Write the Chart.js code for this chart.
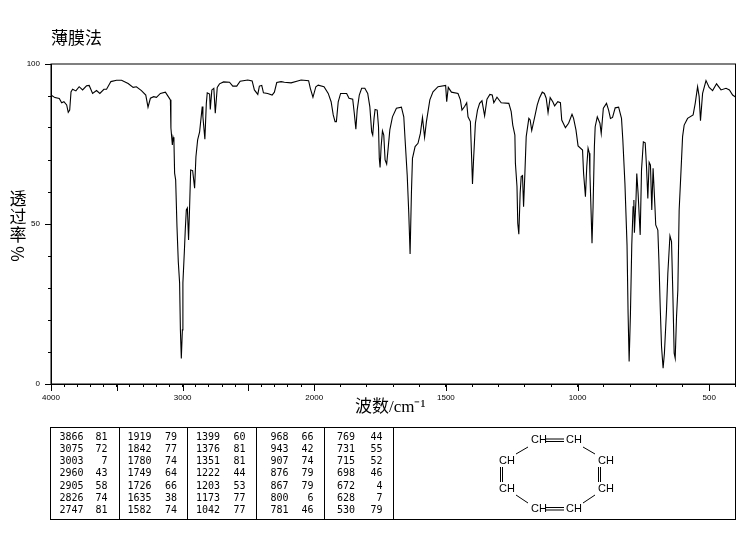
<!DOCTYPE html>
<html>
<head>
<meta charset="utf-8">
<title>薄膜法</title>
<script src="https://cdn.jsdelivr.net/npm/chart.js@4"></script>
<style>
    html, body { margin: 0; padding: 0; background: #fff; }
    canvas { display: block; }
</style>
</head>
<body>
<canvas id="irChart" width="748" height="539"></canvas>
<script>
// spectrum
const wavenumbers = [
    4000, 3970, 3937, 3919, 3902, 3881, 3869, 3858, 3848, 3836, 3811, 3786, 3760, 3730, 3710, 3684, 3654, 3629, 3598, 3578,
    3545, 3502, 3464, 3414, 3376, 3351, 3313, 3280, 3263, 3245, 3220, 3199, 3169, 3131, 3104, 3093, 3089, 3078, 3073, 3066,
    3061, 3053, 3043, 3033, 3023, 3017, 3010, 3002, 2998, 2987, 2980, 2972, 2964, 2955, 2947, 2939, 2924, 2909, 2899, 2886,
    2871, 2851, 2846, 2831, 2820, 2813, 2795, 2790, 2778, 2763, 2752, 2737, 2720, 2689, 2644, 2619, 2589, 2563, 2505, 2472,
    2455, 2429, 2417, 2399, 2386, 2354, 2320, 2303, 2285, 2252, 2227, 2176, 2126, 2100, 2043, 2030, 2010, 1994, 1985, 1963,
    1947, 1936, 1928, 1921, 1916, 1909, 1900, 1877, 1868, 1854, 1848, 1842, 1837, 1829, 1820, 1808, 1797, 1789, 1782, 1778,
    1773, 1769, 1761, 1756, 1753, 1750, 1746, 1741, 1736, 1731, 1725, 1720, 1713, 1703, 1688, 1669, 1660, 1655, 1647, 1641,
    1636, 1631, 1627, 1617, 1606, 1597, 1589, 1581, 1574, 1561, 1549, 1530, 1501, 1497, 1491, 1479, 1454, 1445, 1439, 1429,
    1421, 1416, 1407, 1402, 1399, 1395, 1388, 1380, 1372, 1363, 1353, 1344, 1333, 1324, 1318, 1306, 1290, 1261, 1252, 1246,
    1238, 1236, 1230, 1227, 1223, 1218, 1214, 1209, 1205, 1200, 1195, 1185, 1180, 1174, 1161, 1153, 1145, 1134, 1126, 1119,
    1112, 1104, 1094, 1087, 1075, 1065, 1060, 1046, 1034, 1021, 1015, 1006, 998, 981, 977, 970, 965, 960, 955, 953,
    948, 945, 941, 936, 933, 925, 915, 910, 902, 890, 882, 875, 867, 857, 844, 833, 828, 820, 812, 808,
    804, 799, 794, 789, 786, 784, 778, 775, 770, 762, 757, 750, 743, 738, 733, 728, 723, 718, 713, 706,
    703, 695, 691, 686, 681, 675, 670, 662, 657, 649, 643, 638, 633, 629, 624, 619, 614, 608, 601, 595,
    582, 561, 553, 544, 538, 533, 525, 512, 500, 487, 472, 455, 436, 423, 411, 400
];
const transmittance = [
    90.3, 89.5, 89.2, 87.9, 88.2, 87.2, 84.9, 85.6, 91.3, 92.1, 91.6, 92.9, 91.9, 93.2, 93.3, 90.8, 91.7, 90.8, 92.1, 92.1,
    94.5, 94.9, 94.9, 93.9, 92.7, 92.9, 91.7, 90.3, 86.5, 89.3, 89.8, 89.6, 90.8, 91.2, 89.5, 88.8, 80, 74.7, 77.1, 75.7,
    65.9, 63.8, 49.2, 38.2, 31.6, 16.9, 8, 16.9, 31.6, 41.3, 48.1, 54.4, 55, 45, 55.4, 66.9, 66.7, 61.2, 71, 76.3,
    78.8, 86.7, 83.5, 76.5, 87.7, 91, 90.6, 85.8, 91.9, 92.4, 84.6, 92.7, 93.8, 94.4, 94.3, 93.1, 93.1, 94.6, 95, 94.7,
    91.9, 90.5, 93.1, 93.3, 91, 90.8, 90.3, 91.2, 94.2, 94.5, 94.3, 94.1, 94.7, 95, 94.8, 92.4, 89.6, 92.9, 93.4, 92.9,
    90.8, 88.2, 84.1, 82, 82, 88.2, 90.8, 90.8, 89.3, 89, 84.6, 79.6, 85.6, 90.3, 92.4, 92.4, 90.8, 86.7, 78.8, 77.8,
    83, 85.8, 85.6, 80.4, 70.5, 67.7, 74.2, 79.1, 77.8, 70, 68.7, 73.1, 79.4, 83.5, 86.2, 86.5, 83.5, 76.3, 65.3, 53.3,
    40.6, 59.6, 70.5, 74.2, 75.2, 78.3, 83.3, 77.1, 82, 88.8, 91.3, 92.9, 93.3, 88.2, 92.7, 91.2, 90.8, 88.8, 85.6, 86.7,
    87.9, 83.5, 82, 70, 62.5, 70, 81.5, 85.6, 87.7, 88.5, 83.8, 89, 90.5, 90.3, 87.9, 89.6, 87.9, 87.7, 85.1, 80.9,
    77.8, 69, 61.7, 50.2, 46.8, 59.6, 64.8, 65.1, 55.4, 65.8, 77.3, 83, 82.5, 79.2, 84.1, 87.2, 89.3, 91.2, 90.8, 89.3,
    84.8, 89.5, 88.2, 86.9, 88.2, 87.9, 82.5, 80.1, 81.5, 84.3, 83, 79.4, 74.4, 73.1, 65.8, 58.5, 67.9, 73.7, 72.1, 65.8,
    52.3, 44, 55.4, 74.2, 80.4, 83.5, 81.5, 78.3, 86.2, 87.7, 85.6, 83, 83.3, 86.3, 86.5, 83, 76.3, 62.7, 43.4, 22.1,
    7, 22.1, 43.4, 55.4, 57.5, 47.3, 57.5, 65.8, 59.6, 46.6, 66.9, 75.7, 75.4, 67.9, 58, 69.3, 68.4, 54.4, 67.4, 55.4,
    49.7, 48.1, 38.8, 24.2, 11.7, 4.9, 9.6, 23.1, 34.6, 46.3, 44.5, 28.3, 9.6, 8, 21, 29.4, 54.4, 64.8, 77.3, 80.9,
    83, 84.1, 87.7, 92.9, 89.8, 82.3, 90.8, 94.8, 92.7, 91.7, 93.8, 91.9, 92.4, 91.9, 90.3, 89.7
];

const xLabels = [4000, 3000, 2000, 1500, 1000, 500];
const xLongTicks = [4000, 3500, 3000, 2500, 2000, 1500, 1000, 500];
const yLabels = [0, 50, 100];

// peak table, one list per column of the printed table
const peakColumns = [
    [['3866', '81'], ['3075', '72'], ['3003', '7'], ['2960', '43'], ['2905', '58'], ['2826', '74'], ['2747', '81']],
    [['1919', '79'], ['1842', '77'], ['1780', '74'], ['1749', '64'], ['1726', '66'], ['1635', '38'], ['1582', '74']],
    [['1399', '60'], ['1376', '81'], ['1351', '81'], ['1222', '44'], ['1203', '53'], ['1173', '77'], ['1042', '77']],
    [['968', '66'], ['943', '42'], ['907', '74'], ['876', '79'], ['867', '79'], ['800', '6'], ['781', '46']],
    [['769', '44'], ['731', '55'], ['715', '52'], ['698', '46'], ['672', '4'], ['628', '7'], ['530', '79']]
];

// the axis is twice as compressed above 2000 cm-1
function foldWn(wn) {
    return wn >= 2000 ? (4000 - wn) / 2 : 1000 + (2000 - wn);
}

function buildXTicks() {
    const ticks = [];
    for (let wn = 4000; wn >= 400; wn -= 100) {
        ticks.push({ value: foldWn(wn), wn: wn });
    }
    return ticks;
}

const spectrum = wavenumbers.map((wn, i) => ({ x: foldWn(wn), y: transmittance[i] }));

function line(ctx, x1, y1, x2, y2) {
    ctx.beginPath();
    ctx.moveTo(x1, y1);
    ctx.lineTo(x2, y2);
    ctx.stroke();
}

function drawTable(ctx) {
    const wnRight = [83.5, 151.5, 220, 288.5, 355];
    const tRight = [107.5, 177, 245.5, 313.5, 382.5];
    ctx.strokeRect(50.5, 427.5, 685, 92);
    [119.5, 187.5, 256.5, 324.5, 393.5].forEach(x => line(ctx, x, 427.5, x, 519.5));
    ctx.font = '10px "DejaVu Sans Mono"';
    ctx.textAlign = 'right';
    ctx.textBaseline = 'middle';
    peakColumns.forEach((col, c) => {
        col.forEach((row, r) => {
            const y = 437 + r * 12.3;
            ctx.fillText(row[0], wnRight[c], y);
            ctx.fillText(row[1], tRight[c], y);
        });
    });
}

function drawMolecule(ctx) {
    const labels = [[539, 440], [574, 440], [507, 461], [606, 461], [507, 488.5], [606, 488.5], [539, 509], [574, 509]];
    ctx.font = '11px "Liberation Sans"';
    ctx.textAlign = 'center';
    ctx.textBaseline = 'middle';
    labels.forEach(p => ctx.fillText('CH', p[0], p[1]));
    // double bonds
    line(ctx, 546, 439, 564, 439); line(ctx, 546, 441.5, 564, 441.5);
    line(ctx, 546, 507.5, 564, 507.5); line(ctx, 546, 510, 564, 510);
    line(ctx, 500.5, 467, 500.5, 482); line(ctx, 502.5, 467, 502.5, 482);
    line(ctx, 598.5, 467, 598.5, 482); line(ctx, 600.5, 467, 600.5, 482);
    // single bonds
    line(ctx, 516, 454, 528, 447); line(ctx, 583, 447, 595, 454);
    line(ctx, 516, 495, 528, 503); line(ctx, 583, 503, 595, 495);
}

const spectrumDecor = {
    id: 'spectrumDecor',
    afterDraw(chart) {
        const ctx = chart.ctx;
        const area = chart.chartArea;
        const x = chart.scales.x;
        const y = chart.scales.y;
        ctx.save();
        ctx.strokeStyle = '#000';
        ctx.fillStyle = '#000';
        ctx.lineWidth = 1;

        // frame and the longer ticks
        ctx.strokeRect(area.left, area.top, area.right - area.left, area.bottom - area.top);
        xLongTicks.forEach(wn => {
            const px = Math.round(x.getPixelForValue(foldWn(wn))) + 0.5;
            line(ctx, px, area.bottom, px, area.bottom + 7);
        });
        yLabels.forEach(v => {
            const py = Math.round(y.getPixelForValue(v)) + 0.5;
            line(ctx, area.left - 6, py, area.left, py);
        });

        // headings
        ctx.textBaseline = 'middle';
        ctx.textAlign = 'left';
        ctx.font = '17px "Noto Sans CJK SC"';
        ctx.fillText('薄膜法', 51, 38);
        ctx.font = '17px "Liberation Serif", "Noto Sans CJK SC"';
        ctx.fillText('波数/cm⁻¹', 355, 408);
        ctx.font = '17px "Noto Sans CJK SC"';
        ctx.textAlign = 'center';
        ctx.fillText('透', 18, 199);
        ctx.fillText('过', 18, 217);
        ctx.fillText('率', 18, 235);
        ctx.save();
        ctx.translate(18, 254);
        ctx.rotate(-Math.PI / 2);
        ctx.fillText('%', 0, 0);
        ctx.restore();

        drawTable(ctx);
        drawMolecule(ctx);
        ctx.restore();
    }
};

const irCtx = document.getElementById('irChart').getContext('2d');
new Chart(irCtx, {
    type: 'line',
    data: {
        datasets: [{
            data: spectrum,
            borderColor: '#000',
            borderWidth: 1.1,
            pointRadius: 0,
            tension: 0,
            fill: false
        }]
    },
    options: {
        responsive: false,
        animation: false,
        parsing: false,
        layout: { padding: { top: 64, right: 12.5, left: 0, bottom: 0 } },
        plugins: {
            legend: { display: false },
            tooltip: { enabled: false }
        },
        scales: {
            x: {
                type: 'linear',
                min: 0,
                max: foldWn(400),
                afterFit(scale) { scale.height = 155; },
                afterBuildTicks(scale) { scale.ticks = buildXTicks(); },
                grid: { drawOnChartArea: false, color: '#000', tickLength: 3, tickColor: '#000' },
                border: { color: '#000' },
                ticks: {
                    autoSkip: false,
                    maxRotation: 0,
                    color: '#000',
                    padding: 6,
                    font: { family: 'Liberation Sans', size: 8 },
                    callback(value, index, ticks) {
                        const wn = ticks[index].wn;
                        return xLabels.includes(wn) ? String(wn) : '';
                    }
                }
            },
            y: {
                min: 0,
                max: 100,
                afterFit(scale) { scale.width = 51; },
                grid: { drawOnChartArea: false, color: '#000', tickLength: 3, tickColor: '#000' },
                border: { color: '#000' },
                ticks: {
                    stepSize: 10,
                    color: '#000',
                    padding: 8,
                    font: { family: 'Liberation Sans', size: 8 },
                    callback(value) {
                        return yLabels.includes(value) ? String(value) : '';
                    }
                }
            }
        }
    },
    plugins: [spectrumDecor]
});
</script>
</body>
</html>
